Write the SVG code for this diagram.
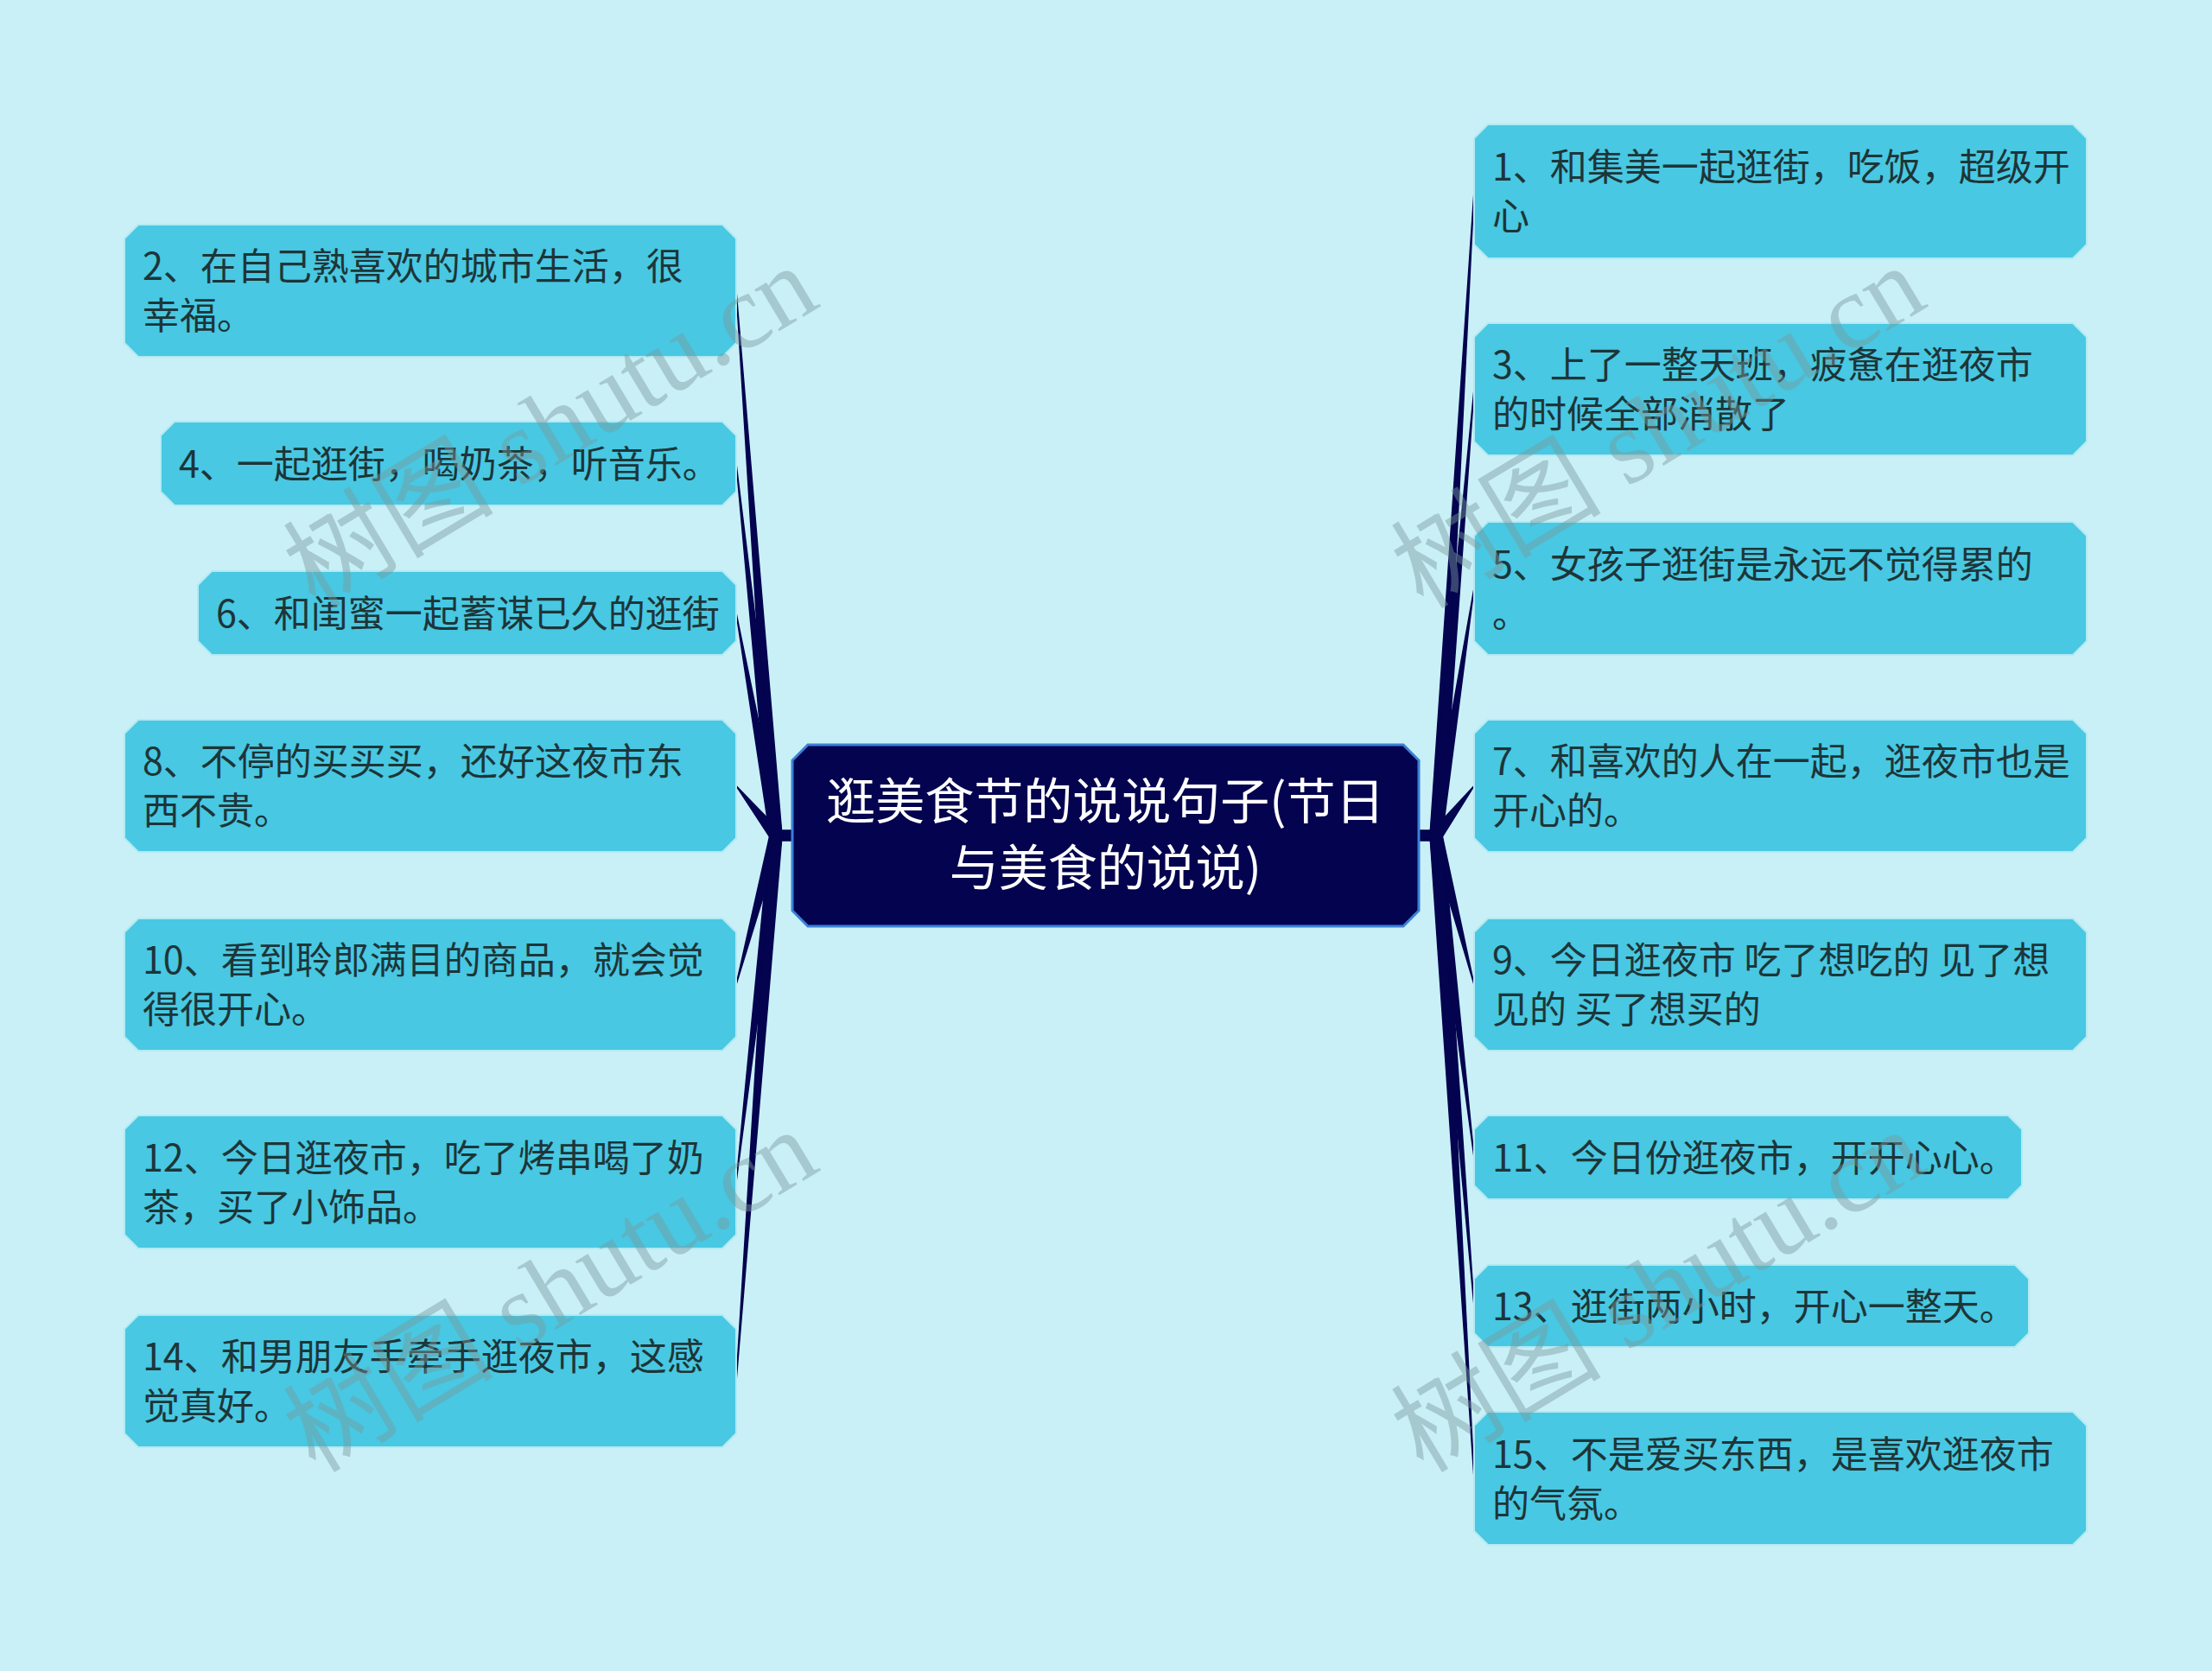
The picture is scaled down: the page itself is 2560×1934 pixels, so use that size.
<svg xmlns="http://www.w3.org/2000/svg" width="2560" height="1934" viewBox="0 0 2560 1934">
<style>
.bg{fill:#c9f0f7}
.node path{fill:#48c8e2;stroke:#b3eaf3;stroke-width:2}
.node text{font-family:"Noto Sans CJK SC","Noto Sans",sans-serif;font-size:43px;fill:#1e3538}
.root path{fill:#03034f;stroke:#3a80d8;stroke-width:3}
.root text{font-family:"Noto Sans CJK SC","Noto Sans",sans-serif;font-size:57px;fill:#ffffff;text-anchor:middle}
.conn path,.conn rect,.conn circle{fill:#03034f;stroke:#03034f;stroke-width:1.5;stroke-linejoin:round}
.wm text{font-family:"Liberation Serif","Noto Sans CJK SC",serif;font-size:122px;fill:#7a9a9e;fill-opacity:0.45}
</style>
<rect class="bg" x="0" y="0" width="2560" height="1934"/>

<g id="connectors" class="conn">
<rect x="898" y="961" width="20" height="12"/>
<rect x="1641" y="961" width="21" height="12"/>
<circle cx="898" cy="967" r="6"/>
<circle cx="1662" cy="967" r="6"/>
<path d="M852,336.5 L904.98,966.49 L891.02,967.51 Z"/>
<path d="M852,536.5 L904.96,966.25 L891.04,967.75 Z"/>
<path d="M852,709.5 L904.89,965.76 L891.11,968.24 Z"/>
<path d="M852,909.5 L903.39,962.53 L892.61,971.47 Z"/>
<path d="M852,1139.5 L891.23,965.22 L904.77,968.78 Z"/>
<path d="M852,1368 L891.04,966.21 L904.96,967.79 Z"/>
<path d="M852,1598.5 L891.02,966.49 L904.98,967.51 Z"/>
<path d="M1706,221.5 L1668.99,967.41 L1655.01,966.59 Z"/>
<path d="M1706,450.5 L1668.97,967.6 L1655.03,966.4 Z"/>
<path d="M1706,681 L1668.92,968.07 L1655.08,965.93 Z"/>
<path d="M1706,909.5 L1667.49,971.35 L1656.51,962.65 Z"/>
<path d="M1706,1139.5 L1655.21,968.71 L1668.79,965.29 Z"/>
<path d="M1706,1339.5 L1655.05,967.82 L1668.95,966.18 Z"/>
<path d="M1706,1511.5 L1655.02,967.56 L1668.98,966.44 Z"/>
<path d="M1706,1711 L1655.01,967.41 L1668.99,966.59 Z"/>
</g>

<g id="root" class="root">
<path d="M935,862 H1624 L1642,880 V1054 L1624,1072 H935 L917,1054 V880 Z"/>
<text x="1279.5" y="948">逛美食节的说说句子(节日</text>
<text x="1279.5" y="1025">与美食的说说)</text>
</g>

<g id="n2" class="node">
<path d="M160,260 H836 L852,276 V397 L836,413 H160 L144,397 V276 Z"/>
<text x="165" y="324">2、在自己熟喜欢的城市生活，很</text>
<text x="165" y="381">幸福。</text>
</g>
<g id="n4" class="node">
<path d="M202,488 H836 L852,504 V569 L836,585 H202 L186,569 V504 Z"/>
<text x="207" y="553">4、一起逛街，喝奶茶，听音乐。</text>
</g>
<g id="n6" class="node">
<path d="M245,661 H836 L852,677 V742 L836,758 H245 L229,742 V677 Z"/>
<text x="250" y="726">6、和闺蜜一起蓄谋已久的逛街</text>
</g>
<g id="n8" class="node">
<path d="M160,833 H836 L852,849 V970 L836,986 H160 L144,970 V849 Z"/>
<text x="165" y="897">8、不停的买买买，还好这夜市东</text>
<text x="165" y="954">西不贵。</text>
</g>
<g id="n10" class="node">
<path d="M160,1063 H836 L852,1079 V1200 L836,1216 H160 L144,1200 V1079 Z"/>
<text x="165" y="1127">10、看到聆郎满目的商品，就会觉</text>
<text x="165" y="1184">得很开心。</text>
</g>
<g id="n12" class="node">
<path d="M160,1291 H836 L852,1307 V1429 L836,1445 H160 L144,1429 V1307 Z"/>
<text x="165" y="1355.5">12、今日逛夜市，吃了烤串喝了奶</text>
<text x="165" y="1412.5">茶，买了小饰品。</text>
</g>
<g id="n14" class="node">
<path d="M160,1522 H836 L852,1538 V1659 L836,1675 H160 L144,1659 V1538 Z"/>
<text x="165" y="1586">14、和男朋友手牵手逛夜市，这感</text>
<text x="165" y="1643">觉真好。</text>
</g>

<g id="n1" class="node">
<path d="M1722,144 H2399 L2415,160 V283 L2399,299 H1722 L1706,283 V160 Z"/>
<text x="1727" y="209">1、和集美一起逛街，吃饭，超级开</text>
<text x="1727" y="266">心</text>
</g>
<g id="n3" class="node">
<path d="M1722,374 H2399 L2415,390 V511 L2399,527 H1722 L1706,511 V390 Z"/>
<text x="1727" y="438">3、上了一整天班，疲惫在逛夜市</text>
<text x="1727" y="495">的时候全部消散了</text>
</g>
<g id="n5" class="node">
<path d="M1722,604 H2399 L2415,620 V742 L2399,758 H1722 L1706,742 V620 Z"/>
<text x="1727" y="668.5">5、女孩子逛街是永远不觉得累的</text>
<text x="1727" y="725.5">。</text>
</g>
<g id="n7" class="node">
<path d="M1722,833 H2399 L2415,849 V970 L2399,986 H1722 L1706,970 V849 Z"/>
<text x="1727" y="897">7、和喜欢的人在一起，逛夜市也是</text>
<text x="1727" y="954">开心的。</text>
</g>
<g id="n9" class="node">
<path d="M1722,1063 H2399 L2415,1079 V1200 L2399,1216 H1722 L1706,1200 V1079 Z"/>
<text x="1727" y="1127">9、今日逛夜市 吃了想吃的 见了想</text>
<text x="1727" y="1184">见的 买了想买的</text>
</g>
<g id="n11" class="node">
<path d="M1722,1291 H2324 L2340,1307 V1372 L2324,1388 H1722 L1706,1372 V1307 Z"/>
<text x="1727" y="1356">11、今日份逛夜市，开开心心。</text>
</g>
<g id="n13" class="node">
<path d="M1722,1464 H2332 L2348,1480 V1543 L2332,1559 H1722 L1706,1543 V1480 Z"/>
<text x="1727" y="1528">13、逛街两小时，开心一整天。</text>
</g>
<g id="n15" class="node">
<path d="M1722,1634 H2399 L2415,1650 V1772 L2399,1788 H1722 L1706,1772 V1650 Z"/>
<text x="1727" y="1698.5">15、不是爱买东西，是喜欢逛夜市</text>
<text x="1727" y="1755.5">的气氛。</text>
</g>

<g id="watermarks" class="wm">
<text transform="translate(365,706) rotate(-31)">树图 shutu.cn</text>
<text transform="translate(365,1706) rotate(-31)">树图 shutu.cn</text>
<text transform="translate(1647,706) rotate(-31)">树图 shutu.cn</text>
<text transform="translate(1647,1706) rotate(-31)">树图 shutu.cn</text>
</g>
</svg>
